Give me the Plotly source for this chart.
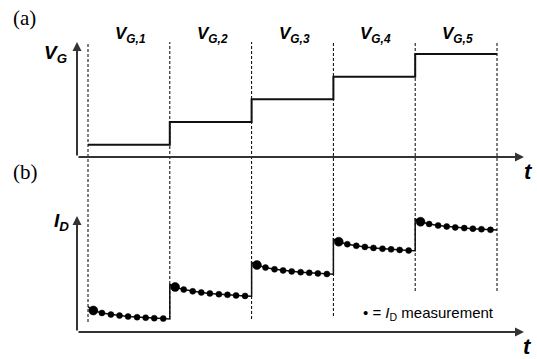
import plotly.graph_objects as go

# ---- data -------------------------------------------------------------
# gate-voltage steps (arbitrary units), one level per interval
step_edges = [0, 1, 2, 3, 4, 5]
vg_levels = [1, 2, 3, 4, 5]
vg_labels = ["V<sub>G,1</sub>", "V<sub>G,2</sub>", "V<sub>G,3</sub>",
             "V<sub>G,4</sub>", "V<sub>G,5</sub>"]

# sampling instants inside each interval (fraction of the interval)
meas_t = [0.065, 0.17, 0.28, 0.385, 0.49, 0.60, 0.705, 0.81, 0.92]

# drain current samples per interval (arbitrary units)
id_seg1 = [2.15, 1.90, 1.74, 1.64, 1.55, 1.48, 1.43, 1.38, 1.34]
id_seg2 = [4.50, 4.24, 4.07, 3.96, 3.86, 3.78, 3.72, 3.66, 3.61]
id_seg3 = [6.70, 6.44, 6.27, 6.16, 6.06, 5.98, 5.92, 5.86, 5.80]
id_seg4 = [9.03, 8.78, 8.62, 8.51, 8.41, 8.33, 8.27, 8.21, 8.15]
id_seg5 = [11.03, 10.80, 10.65, 10.55, 10.46, 10.39, 10.33, 10.28, 10.22]
id_segments = [id_seg1, id_seg2, id_seg3, id_seg4, id_seg5]
id_start = [2.53, 4.75, 6.95, 9.30, 11.30]   # current right after the step
id_end = [1.30, 3.57, 5.77, 8.12, 10.20]     # current at the end of the step

# ---- page geometry ----------------------------------------------------
W, H = 537, 359
X_RANGE = [-88 / 81.8, (W - 88) / 81.8]
VG_RANGE = [1 - (H - 144.7) / 22.675, 5 + 54 / 22.675]
ID_RANGE = [-(H - 332) / 10.0, 33.2]


def px(p):
    return p / W


def py(p):
    return 1 - p / H


def t_of_px(p):
    return X_RANGE[0] + p / W * (X_RANGE[1] - X_RANGE[0])


def vg_of_px(p):
    return VG_RANGE[1] - p / H * (VG_RANGE[1] - VG_RANGE[0])


def id_of_px(p):
    return ID_RANGE[1] - p / H * (ID_RANGE[1] - ID_RANGE[0])


fig = go.Figure()

# gate-voltage staircase
fig.add_trace(go.Scatter(
    x=step_edges, y=vg_levels + [vg_levels[-1]], mode="lines",
    line=dict(color="#111111", width=2, shape="hv"),
    yaxis="y", showlegend=False, hoverinfo="skip"))

# drain-current transient line
lx, ly = [], []
for k, seg in enumerate(id_segments):
    lx += [step_edges[k]] + [step_edges[k] + t for t in meas_t] + [step_edges[k + 1]]
    ly += [id_start[k]] + seg + [id_end[k]]
fig.add_trace(go.Scatter(
    x=lx, y=ly, mode="lines", line=dict(color="#111111", width=1.5),
    yaxis="y2", showlegend=False, hoverinfo="skip"))

# drain-current measurement points (first one after each step is larger)
mx, my, ms = [], [], []
for k, seg in enumerate(id_segments):
    for j, (t, v) in enumerate(zip(meas_t, seg)):
        mx.append(step_edges[k] + t)
        my.append(v)
        ms.append(9 if j == 0 else 6)
fig.add_trace(go.Scatter(
    x=mx, y=my, mode="markers",
    marker=dict(color="#000000", size=ms, opacity=1, line=dict(width=0.5, color="#000000")),
    yaxis="y2", showlegend=False, hoverinfo="skip"))

# dotted interval boundaries
dash_bottom_px = [322, 319, 319, 316, 291, 291]
shapes = []
for e, b in zip(step_edges, dash_bottom_px):
    shapes.append(dict(type="line", xref="x", yref="paper", x0=e, x1=e,
                       y0=py(b), y1=py(42),
                       line=dict(color="#000000", width=1, dash="3px,2px"),
                       layer="below"))

annotations = []
axis_col = "#333333"
x_org, x_tip = t_of_px(77), t_of_px(524)


def axis_arrow(x, y, ax, ay, yref):
    return dict(x=x, y=y, ax=ax, ay=ay, xref="x", yref=yref, axref="x", ayref=yref,
                text="", showarrow=True, arrowhead=2, arrowsize=0.9,
                arrowwidth=2, arrowcolor=axis_col, standoff=0, startstandoff=0)


# axes of panel (a)
vg0 = vg_of_px(157)
annotations.append(axis_arrow(x_org, vg_of_px(42), x_org, vg0, "y"))
annotations.append(axis_arrow(x_tip, vg0, x_org, vg0, "y"))
# axes of panel (b)
annotations.append(axis_arrow(x_org, id_of_px(216), x_org, 0, "y2"))
annotations.append(axis_arrow(x_tip, 0, x_org, 0, "y2"))

sans = "'Liberation Sans', Arial, sans-serif"
serif = "'Liberation Serif', 'Times New Roman', serif"


def label(text, x, y, size, family=sans, xanchor="center", yanchor="middle", xref="paper"):
    return dict(text=text, x=x, y=y, xref=xref, yref="paper", showarrow=False,
                font=dict(family=family, size=size, color="black"),
                xanchor=xanchor, yanchor=yanchor)


annotations.append(label("(a)", px(11), py(18), 21, serif, xanchor="left"))
annotations.append(label("(b)", px(11), py(172), 21, serif, xanchor="left"))
annotations.append(label("<b><i>V<sub>G</sub></i></b>", px(55), py(54), 19))
annotations.append(label("<b><i>I<sub>D</sub></i></b>", px(61), py(222), 19))
annotations.append(label("<b><i>t</i></b>", px(528), py(171), 22))
annotations.append(label("<b><i>t</i></b>", px(527), py(346), 22))
for k, txt in enumerate(vg_labels):
    annotations.append(label("<b><i>" + txt + "</i></b>", step_edges[k] + 0.52, py(35), 17,
                             xref="x"))
annotations.append(label("\u2022 = <i>I</i><sub>D</sub> measurement", px(361), py(313), 15,
                         xanchor="left"))

hidden = dict(visible=False, showgrid=False, zeroline=False, fixedrange=True)
fig.update_layout(
    width=W, height=H, autosize=False,
    margin=dict(l=0, r=0, t=0, b=0, pad=0),
    paper_bgcolor="white", plot_bgcolor="white",
    font=dict(family=sans),
    xaxis=dict(range=X_RANGE, domain=[0, 1], **hidden),
    yaxis=dict(range=VG_RANGE, domain=[0, 1], **hidden),
    yaxis2=dict(range=ID_RANGE, domain=[0, 1], overlaying="y", **hidden),
    shapes=shapes, annotations=annotations, showlegend=False,
)

fig.write_html("out.html")
